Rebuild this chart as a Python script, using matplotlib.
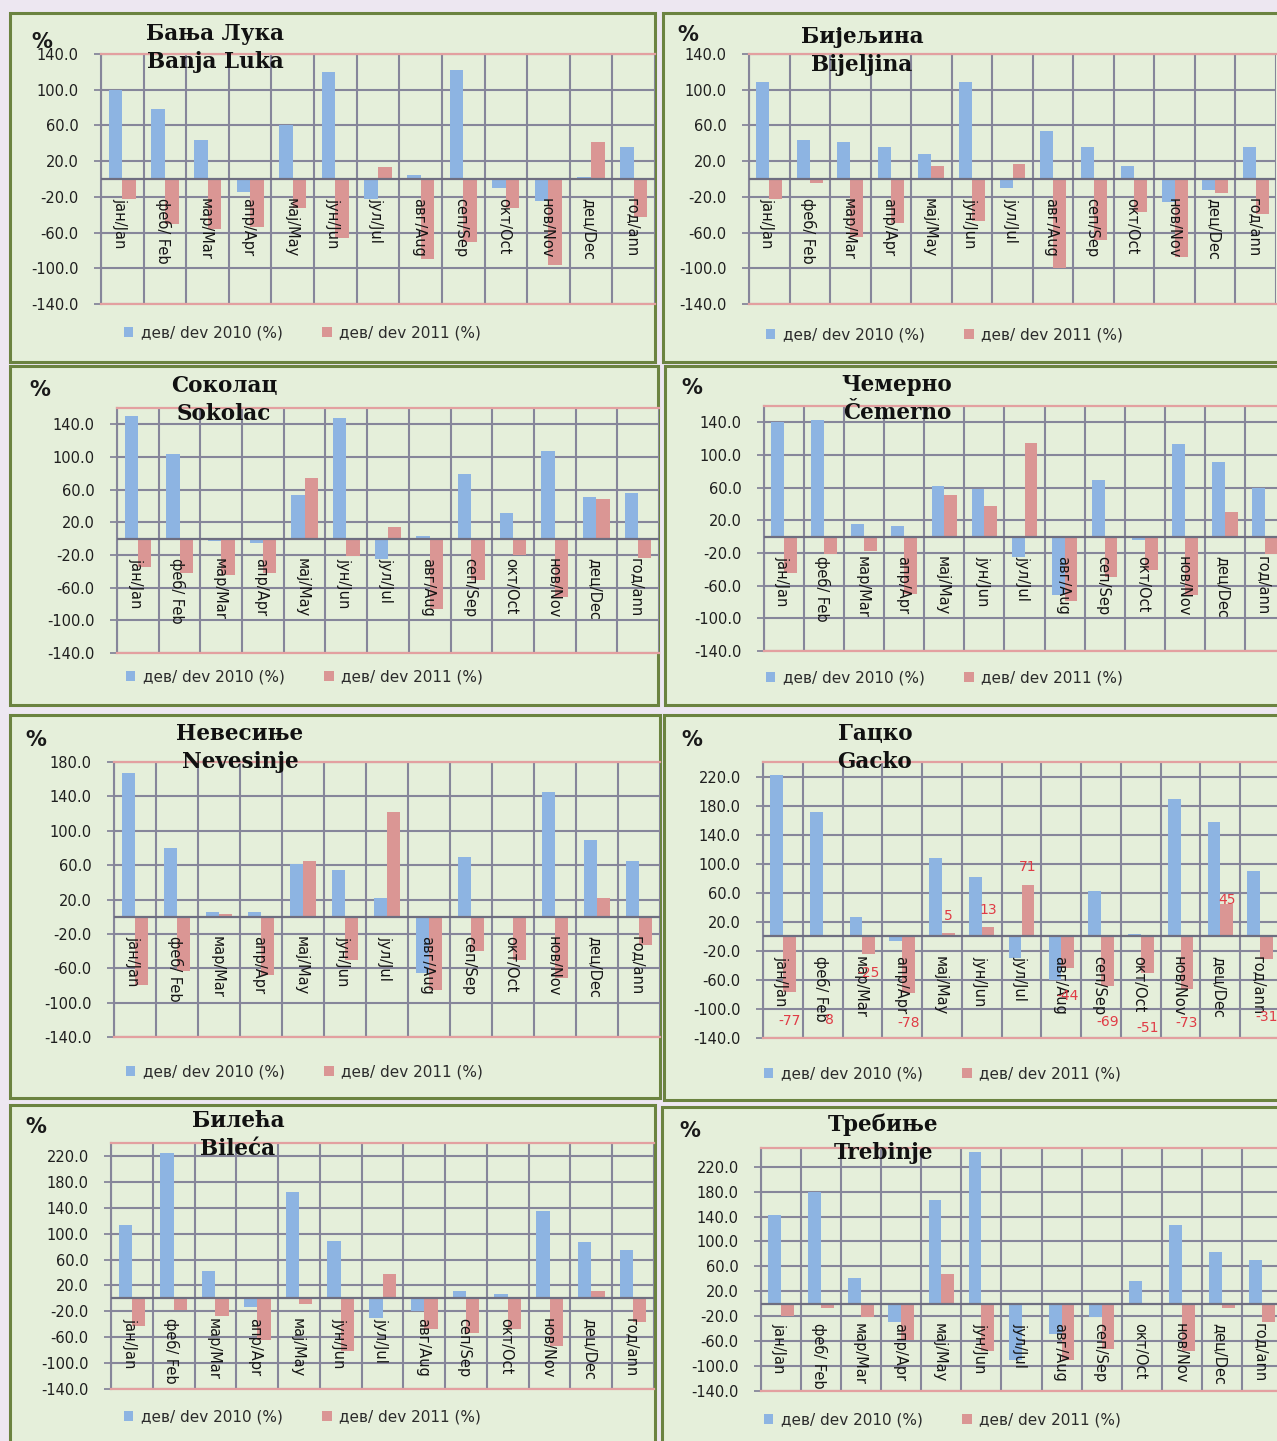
import matplotlib
matplotlib.use('Agg')
import matplotlib.pyplot as plt
from matplotlib.patches import Rectangle, Patch
import numpy as np

# Data
months = ['јан/Jan', 'феб/ Feb', 'мар/Mar', 'апр/Apr', 'мај/May', 'јун/Jun', 'јул/Jul',
          'авг/Aug', 'сеп/Sep', 'окт/Oct', 'нов/Nov', 'дец/Dec', 'год/ann']
series_names = ['дев/ dev 2010 (%)', 'дев/ dev 2011 (%)']

banja_luka_2010 = [100, 78, 44, -14, 60, 120, -22, 4, 122, -10, -25, 2, 36]
banja_luka_2011 = [-22, -50, -56, -54, -33, -66, 13, -90, -71, -33, -96, 42, -43]

bijeljina_2010 = [109, 44, 42, 36, 28, 109, -10, 54, 36, 15, -26, -12, 36]
bijeljina_2011 = [-22, -4, -65, -49, 15, -47, 17, -100, -68, -37, -87, -16, -39]

sokolac_2010 = [150, 104, -3, -5, 54, 148, -25, 3, 79, 31, 107, 51, 56]
sokolac_2011 = [-35, -42, -45, -42, 74, -21, 14, -86, -51, -20, -71, 49, -24]

cemerno_2010 = [140, 143, 16, 13, 62, 58, -25, -72, 69, -4, 113, 92, 60]
cemerno_2011 = [-44, -21, -17, -70, 51, 37, 115, -79, -49, -41, -72, 30, -21]

nevesinje_2010 = [167, 80, 5, 5, 61, 54, 22, -65, 70, 0, 145, 89, 65]
nevesinje_2011 = [-79, -63, 3, -68, 65, -50, 122, -85, -40, -50, -71, 22, -33]

gacko_2010 = [222, 171, 26, -6, 108, 82, -30, -60, 62, 3, 189, 158, 90]
gacko_2011 = [-77, 0, -25, -78, 5, 13, 71, -44, -69, -51, -73, 45, -31]
gacko_labels = ['-77', '8', '-25', '-78', '5', '13', '71', '-44', '-69', '-51', '-73', '45', '-31']

bileca_2010 = [113, 225, 43, -14, 164, 89, -30, -20, 12, 6, 135, 87, 75]
bileca_2011 = [-43, -18, -28, -65, -8, -82, 38, -48, -54, -48, -74, 11, -37]

trebinje_2010 = [142, 180, 42, -30, 166, 243, -90, -48, -21, 36, 127, 83, 71]
trebinje_2011 = [-20, -7, -22, -58, 47, -76, 0, -90, -72, 0, -75, -7, -30]

titles = ['Бања Лука\nBanja Luka', 'Бијељина\nBijeljina', 'Соколац\nSokolac', 'Чемерно\nČemerno',
          'Невесиње\nNevesinje', 'Гацко\nGacko', 'Билећа\nBileća', 'Требиње\nTrebinje']
values_2010 = [banja_luka_2010, bijeljina_2010, sokolac_2010, cemerno_2010,
               nevesinje_2010, gacko_2010, bileca_2010, trebinje_2010]
values_2011 = [banja_luka_2011, bijeljina_2011, sokolac_2011, cemerno_2011,
               nevesinje_2011, gacko_2011, bileca_2011, trebinje_2011]
y_tops = [140, 140, 160, 160, 180, 240, 240, 250]

# Layout in pixels (left, top, right, bottom)
W, H = 1277, 1441
panel_boxes = [(10, 13, 655, 362), (663, 13, 1290, 362),
               (10, 366, 658, 705), (665, 366, 1290, 705),
               (10, 715, 660, 1098), (664, 715, 1290, 1100),
               (10, 1105, 655, 1460), (662, 1107, 1290, 1460)]
plot_boxes = [(101, 54, 655, 304), (749, 54, 1276, 304),
              (117, 408, 659, 653), (764, 406, 1285, 651),
              (114, 762, 660, 1037), (763, 762, 1280, 1038),
              (111, 1143, 654, 1389), (761, 1148, 1282, 1391)]
title_pos = [(215, 48), (862, 51), (224, 400), (897, 399),
             (240, 748), (875, 748), (238, 1135), (883, 1139)]
pct_pos = [(42, 42), (688, 35), (40, 390), (692, 388),
           (36, 740), (692, 740), (36, 1127), (690, 1131)]
legend_pos = [(124, 333), (766, 335), (126, 677), (766, 678),
              (126, 1072), (764, 1074), (124, 1417), (764, 1420)]

blue = '#8db4e2'
red = '#da9694'
grid_col = '#86869a'
panel_fill = '#e5efda'
panel_edge = '#6b8340'


def fx(x):
    return x / W


def fy(y):
    return 1 - y / H


fig = plt.figure(figsize=(W / 100, H / 100), dpi=100)
fig.patch.set_facecolor('#ede7f1')

x = np.arange(len(months))
bw = 0.32

for k in range(8):
    l, t, r, b = panel_boxes[k]
    fig.add_artist(Rectangle((fx(l), fy(b)), fx(r - l), (b - t) / H, transform=fig.transFigure,
                             facecolor=panel_fill, edgecolor=panel_edge, linewidth=2.2, zorder=0))

    l, t, r, b = plot_boxes[k]
    ax = fig.add_axes([fx(l), fy(b), fx(r - l), (b - t) / H])
    ax.set_facecolor(panel_fill)
    ax.set_axisbelow(True)

    ax.bar(x - bw / 2, values_2010[k], bw, color=blue, zorder=2)
    ax.bar(x + bw / 2, values_2011[k], bw, color=red, zorder=2)
    ax.axhline(0, color='#6e6e80', linewidth=1.6, zorder=3)

    top = y_tops[k]
    ax.set_ylim(-140, top)
    ax.set_xlim(-0.5, len(months) - 0.5)
    yt = list(range(-140, top + 1, 40))
    ax.set_yticks(yt)
    ax.set_yticklabels([f'{v:.1f}' for v in yt], fontsize=10.5, color='#1f1f1f')
    ax.set_xticks(np.arange(-0.5, len(months), 1))
    ax.set_xticklabels([])
    ax.tick_params(axis='x', length=0)
    ax.tick_params(axis='y', length=5, width=1.3, color=grid_col, pad=11)
    ax.grid(True, color=grid_col, linewidth=1.5)

    for side in ['top', 'bottom']:
        ax.spines[side].set_color('#e3a0a0')
        ax.spines[side].set_linewidth(1.6)
    ax.spines['left'].set_color(grid_col)
    ax.spines['left'].set_linewidth(1.5)
    ax.spines['right'].set_visible(False)

    for i, m in enumerate(months):
        ax.annotate(m, (i - 0.05, 0), xytext=(0, -14), textcoords='offset points',
                    rotation=270, ha='center', va='top', fontsize=10.5, color='#151515', zorder=5)

    if k == 5:
        offs = [-29, -84, -19, -30, 17, 17, 18, -28, -36, -55, -34, 4, -58]
        for i, lab in enumerate(gacko_labels):
            ax.annotate(lab, (i + bw / 2, values_2011[k][i]), xytext=(0, offs[i] * 0.72),
                        textcoords='offset points', ha='center', va='center',
                        fontsize=10, color='#e03c46', zorder=6)

    tx, ty = title_pos[k]
    fig.text(fx(tx), fy(ty), titles[k], ha='center', va='center', fontsize=15.5,
             fontweight='bold', family='DejaVu Serif', linespacing=1.35, color='#111111')
    px, py = pct_pos[k]
    fig.text(fx(px), fy(py), '%', ha='center', va='center', fontsize=15,
             fontweight='bold', color='#1a1a1a')

    lx, ly = legend_pos[k]
    handles = [Patch(facecolor=blue), Patch(facecolor=red)]
    ax.legend(handles, series_names, loc='center left', bbox_to_anchor=(fx(lx), fy(ly)),
              bbox_transform=fig.transFigure, ncol=2, frameon=False, fontsize=11,
              handlelength=0.6, handleheight=0.6, handletextpad=0.5, columnspacing=2.6,
              borderpad=0, borderaxespad=0, labelcolor='#2b2b2b')

fig.savefig('out.png', dpi=100, facecolor=fig.get_facecolor())
